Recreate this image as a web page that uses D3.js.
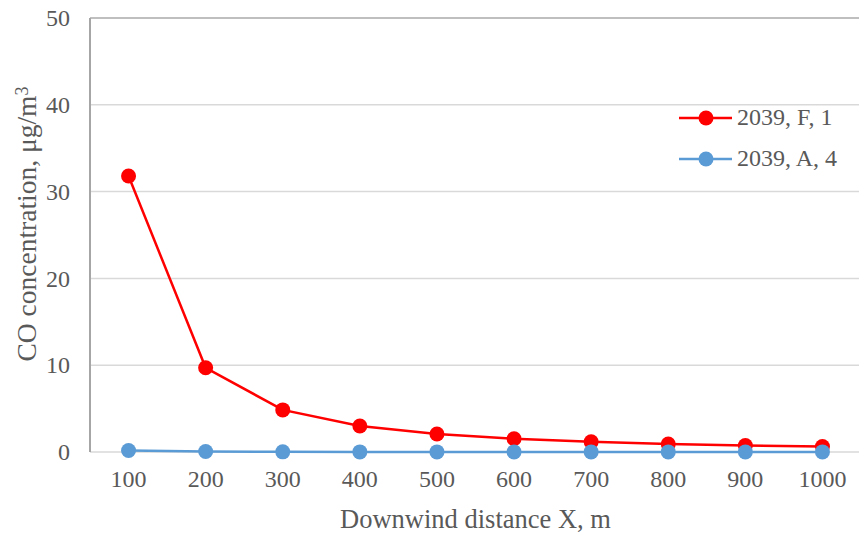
<!DOCTYPE html>
<html>
<head>
<meta charset="utf-8">
<script src="https://cdn.jsdelivr.net/npm/d3@7"></script>
<style>
  body { margin: 0; background: #fff; }
  text { font-family: "Liberation Serif", "Times New Roman", serif; fill: #595959; }
</style>
</head>
<body>
<div id="chart"></div>
<script>
const distances = [100, 200, 300, 400, 500, 600, 700, 800, 900, 1000];
const seriesF1 = [31.8, 9.7, 4.85, 3.0, 2.07, 1.52, 1.18, 0.92, 0.75, 0.62];
const seriesA4 = [0.18, 0.05, 0.02, 0.01, 0.01, 0.01, 0.01, 0.01, 0.01, 0.01];
const yTicks = [0, 10, 20, 30, 40, 50];

const series = [
    { name: "2039, F, 1", color: "#ff0000", values: seriesF1 },
    { name: "2039, A, 4", color: "#5b9bd5", values: seriesA4 }
];

const width = 859, height = 535;
const margin = { top: 18, right: -2, bottom: 83, left: 90 };
const w = width - margin.left - margin.right,
    h = height - margin.top - margin.bottom;

const svg = d3.select("#chart").append("svg")
    .attr("width", width)
    .attr("height", height);

const g = svg.append("g")
    .attr("transform", "translate(" + margin.left + "," + margin.top + ")");

const x = d3.scaleBand()
    .domain(distances)
    .range([0, w]);

const y = d3.scaleLinear()
    .domain([0, 50])
    .range([h, 0]);

// gridlines
g.selectAll(".grid")
    .data(yTicks)
    .enter().append("line")
    .attr("class", "grid")
    .attr("x1", 0)
    .attr("x2", w)
    .attr("y1", d => y(d))
    .attr("y2", d => y(d))
    .attr("stroke", d => d === 50 ? "#bfbfbf" : "#d9d9d9")
    .attr("stroke-width", d => d === 50 ? 2 : 1.5);

// left axis line
g.append("line")
    .attr("x1", 0).attr("x2", 0)
    .attr("y1", 0).attr("y2", h)
    .attr("stroke", "#a6a6a6")
    .attr("stroke-width", 2);

const yAxis = d3.axisLeft(y).tickValues(yTicks).tickSize(0).tickPadding(20);
g.append("g")
    .attr("class", "y-axis")
    .call(yAxis)
    .call(a => a.select(".domain").remove())
    .selectAll("text")
    .attr("font-size", "24px");

const xAxis = d3.axisBottom(x).tickSize(0).tickPadding(18);
g.append("g")
    .attr("class", "x-axis")
    .attr("transform", "translate(0," + h + ")")
    .call(xAxis)
    .call(a => a.select(".domain").remove())
    .selectAll("text")
    .attr("font-size", "24px");

const line = d3.line()
    .x((d, i) => x(distances[i]) + x.bandwidth() / 2)
    .y(d => y(d));

series.forEach(s => {
    g.append("path")
        .datum(s.values)
        .attr("fill", "none")
        .attr("stroke", s.color)
        .attr("stroke-width", 2.5)
        .attr("d", line);

    g.selectAll(null)
        .data(s.values)
        .enter().append("circle")
        .attr("cx", (d, i) => x(distances[i]) + x.bandwidth() / 2)
        .attr("cy", d => y(d))
        .attr("r", 7.5)
        .attr("fill", s.color);
});

// legend
const legend = svg.append("g")
    .attr("transform", "translate(679,118)");

series.forEach((s, i) => {
    const lg = legend.append("g")
        .attr("transform", "translate(0," + (i * 41) + ")");
    lg.append("line")
        .attr("x1", 0).attr("x2", 53)
        .attr("stroke", s.color)
        .attr("stroke-width", 2.5);
    lg.append("circle")
        .attr("cx", 27)
        .attr("r", 7.5)
        .attr("fill", s.color);
    lg.append("text")
        .attr("x", 58)
        .attr("dy", "0.3em")
        .attr("font-size", "24px")
        .text(s.name);
});

// axis titles
svg.append("text")
    .attr("x", margin.left + w / 2)
    .attr("y", 528)
    .attr("text-anchor", "middle")
    .attr("font-size", "26.5px")
    .text("Downwind distance X, m");

const yt = svg.append("text")
    .attr("transform", "translate(36,224) rotate(-90)")
    .attr("text-anchor", "middle")
    .attr("font-size", "27.5px");
yt.append("tspan").text("CO concentration, μg/m");
yt.append("tspan").attr("dy", "-0.45em").attr("font-size", "18px").text("3");
</script>
</body>
</html>
